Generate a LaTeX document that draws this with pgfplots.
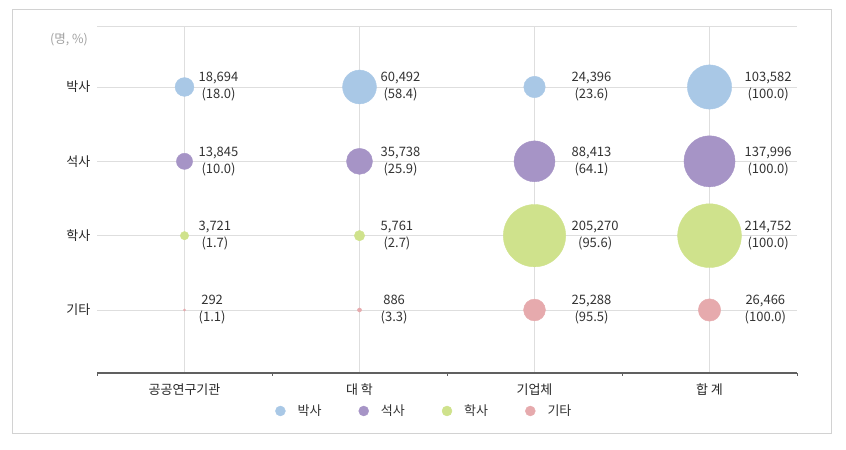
\documentclass[border=0pt]{standalone}
\usepackage{pgfplots}
\pgfplotsset{compat=1.18}
\usepackage{pgfplotstable}
\usepackage{fontspec}
\setmainfont{Noto Sans CJK KR}
\definecolor{cB}{HTML}{A9C8E6}
\definecolor{cM}{HTML}{A694C6}
\definecolor{cG}{HTML}{CFE28C}
\definecolor{cO}{HTML}{E6AAAD}
\definecolor{txt}{HTML}{333333}
\definecolor{gridc}{HTML}{DEDEDE}
\protected\def\lb#1#2{#1\\(#2)}

% x = column (0 public institutes, 1 university, 2 companies, 3 total), y = row
\pgfplotstableread{
x y v lab dx
0 4 18694 \lb{18,694}{18.0} 14
1 4 60492 \lb{60,492}{58.4} 21
2 4 24396 \lb{24,396}{23.6} 37
3 4 103582 \lb{103,582}{100.0} 35
}\phd
\pgfplotstableread{
x y v lab dx
0 3 13845 \lb{13,845}{10.0} 14
1 3 35738 \lb{35,738}{25.9} 21
2 3 88413 \lb{88,413}{64.1} 37
3 3 137996 \lb{137,996}{100.0} 35
}\msc
\pgfplotstableread{
x y v lab dx
0 2 3721 \lb{3,721}{1.7} 14
1 2 5761 \lb{5,761}{2.7} 21
2 2 205270 \lb{205,270}{95.6} 37
3 2 214752 \lb{214,752}{100.0} 35
}\bsc
\pgfplotstableread{
x y v lab dx
0 1 292 \lb{292}{1.1} 14
1 1 886 \lb{886}{3.3} 21
2 1 25288 \lb{25,288}{95.5} 37
3 1 26466 \lb{26,466}{100.0} 35
}\oth

\pgfplotsset{
  bub/.style={
    scatter, only marks, mark=*,
    scatter/use mapped color={draw=#1, fill=#1},
    point meta=\thisrow{v},
    scatter/@pre marker code/.append style={/tikz/mark size={32*sqrt(\pgfplotspointmetatransformed/1000)}},
    legend image code/.code={\fill[#1] (0bp,0bp) circle (5bp);},
  },
  lab/.style={
    draw=none, mark=none, forget plot,
    point meta=explicit symbolic,
    visualization depends on={\thisrow{dx} \as \lbldx},
    nodes near coords,
    every node near coord/.append style={anchor=west, xshift={\lbldx*1bp}, align=center,
      inner sep=0pt, text=txt, font=\fontsize{13bp}{17bp}\selectfont},
  },
}

\begin{document}
\begin{tikzpicture}[x=1bp,y=1bp]
\path[use as bounding box] (0,0) rectangle (846,450);
\draw[gray!35, line width=1bp] (12,16) rectangle (831,440);
\node[text=gray!75, font=\fontsize{12.5bp}{14bp}\selectfont] at (69,410) {(명, \%)};
\begin{axis}[
  at={(97bp,77bp)}, anchor=south west,
  scale only axis, width=700bp, height=347bp,
  xmin=-0.5, xmax=3.5, ymin=0.1525, ymax=4.8207,
  clip=false,
  axis x line*=bottom, axis y line*=left,
  y axis line style={draw=none},
  x axis line style={draw=gray!75!black, line width=1.6bp},
  xtick={0,1,2,3}, xticklabels={공공연구기관,대 학,기업체,합 계},
  minor xtick={-0.5,0.5,1.5,2.5,3.5},
  major x tick style={draw=none},
  minor x tick style={draw=gray!75!black, line width=0.9bp},
  minor tick length=3bp,
  tick align=outside,
  ytick={1,2,3,4}, yticklabels={기타,학사,석사,박사},
  ytick style={draw=none},
  extra y ticks={4.8207}, extra y tick labels={},
  extra y tick style={grid=major, tick style={draw=none}},
  xmajorgrids, ymajorgrids,
  grid style={gridc, line width=0.8bp},
  point meta min=0, point meta max=214752,
  ticklabel style={text=black!85, font=\fontsize{13bp}{15bp}\selectfont},
  yticklabel style={xshift=1bp},
  xticklabel style={yshift=-3bp},
  legend columns=4,
  legend style={at={(0.2543,-0.1095)}, anchor=west, draw=none, fill=none, inner sep=0pt,
    font=\fontsize{13bp}{15bp}\selectfont, text=txt,
    /tikz/every odd column/.append style={column sep=10bp},
    /tikz/every even column/.append style={column sep=35bp}},
]
\addplot[bub=cB] table[x=x, y=y] {\phd};
\addlegendentry{박사}
\addplot[bub=cM] table[x=x, y=y] {\msc};
\addlegendentry{석사}
\addplot[bub=cG] table[x=x, y=y] {\bsc};
\addlegendentry{학사}
\addplot[bub=cO] table[x=x, y=y] {\oth};
\addlegendentry{기타}
\addplot[lab] table[x=x, y=y, meta=lab] {\phd};
\addplot[lab] table[x=x, y=y, meta=lab] {\msc};
\addplot[lab] table[x=x, y=y, meta=lab] {\bsc};
\addplot[lab] table[x=x, y=y, meta=lab] {\oth};
\end{axis}
\end{tikzpicture}
\end{document}
